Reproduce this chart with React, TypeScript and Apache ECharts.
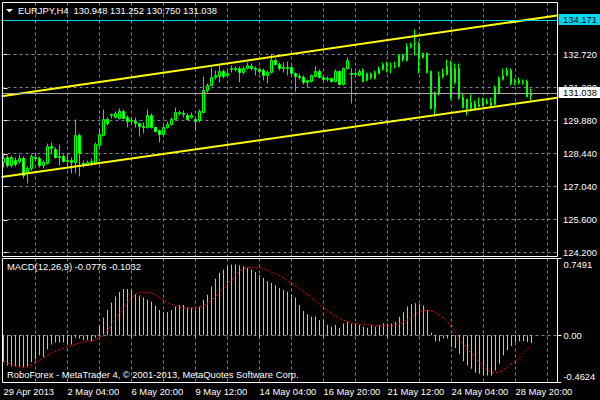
import React, { useEffect, useRef } from "react";
import * as echarts from "echarts";

// ---- data (EURJPY H4) ----
const opens = [
  128.073,128.288,127.944,128.159,128.116,128.245,127.600,127.815,128.288,128.245,
  127.944,128.030,128.762,128.633,128.288,128.331,128.116,128.159,128.073,129.235,
  128.030,127.987,128.073,128.073,128.805,129.235,129.923,130.096,130.010,129.967,
  130.268,130.010,129.837,129.837,129.751,129.622,129.579,130.096,129.579,129.450,
  129.278,129.579,129.708,129.923,130.182,130.182,130.096,130.010,129.923,129.880,
  130.225,131.171,131.386,131.731,131.774,131.989,131.817,132.075,132.118,132.118,
  131.946,132.118,132.204,132.118,132.075,132.032,131.817,131.946,132.462,132.290,
  132.118,132.161,132.161,131.903,131.774,131.731,131.516,131.559,131.774,131.989,
  131.731,131.645,131.688,131.559,131.989,131.429,132.118,131.903,131.860,131.817,
  132.032,131.602,131.860,131.688,131.903,132.075,132.290,132.204,132.247,132.204,
  132.677,132.462,133.065,133.151,133.194,132.763,132.763,131.989,130.397,131.042,
  131.774,131.860,132.204,131.516,132.118,130.870,130.784,130.397,130.612,130.483,
  130.526,130.698,130.655,130.569,131.042,131.645,131.817,132.032,131.516,131.602,
  131.516,131.559,130.948,
];
const closes = [
  128.245,127.944,128.288,127.987,128.245,127.514,127.815,128.331,128.245,127.944,
  128.073,128.762,128.676,128.288,128.331,128.116,128.159,128.073,129.235,128.460,
  127.944,128.073,128.116,128.848,129.278,129.923,129.751,130.139,130.182,130.268,
  129.967,129.837,129.880,129.751,129.622,129.579,130.096,129.579,129.407,129.278,
  129.579,129.708,129.923,130.225,130.225,130.139,129.923,130.096,129.837,130.268,
  131.171,131.386,131.731,131.817,131.989,131.774,131.903,132.118,132.075,131.946,
  132.118,132.247,132.118,132.075,131.989,131.817,131.946,132.462,132.290,132.118,
  132.161,132.118,131.903,131.774,131.731,131.516,131.602,131.817,131.989,131.731,
  131.645,131.688,131.559,131.989,131.429,132.118,132.462,131.860,131.903,131.989,
  131.559,131.903,131.731,131.946,132.118,132.290,132.204,132.247,132.204,132.677,
  132.505,133.065,133.151,133.194,132.591,132.591,131.946,130.397,131.042,131.774,
  131.903,132.204,130.870,132.118,130.870,130.440,130.397,130.655,130.354,130.569,
  130.698,130.612,130.526,131.300,131.688,131.817,132.032,131.473,131.602,131.516,
  131.559,130.913,131.038,
];
const lows = [
  127.858,127.858,127.858,127.901,128.030,127.385,127.170,127.729,128.159,127.858,
  127.815,127.987,128.460,128.245,127.944,128.073,127.858,127.600,127.600,127.471,
  127.858,127.944,127.944,127.987,128.762,129.192,129.665,129.967,129.967,129.923,
  129.923,129.579,129.751,129.579,129.192,129.321,129.536,129.536,129.364,128.934,
  129.235,129.536,129.665,129.880,130.096,130.010,129.880,129.967,129.450,129.794,
  130.182,131.085,131.343,131.645,131.516,131.688,131.731,131.946,131.989,131.516,
  131.860,132.075,132.032,131.817,131.903,131.602,131.473,131.903,132.247,132.032,
  131.946,131.817,131.860,131.128,131.645,131.429,131.300,131.516,131.731,131.688,
  131.559,131.559,131.516,131.516,131.386,131.386,132.075,130.612,131.774,131.774,
  131.516,131.559,131.645,131.645,131.860,132.032,131.946,131.903,132.118,132.161,
  132.419,132.419,132.979,132.677,131.903,132.548,131.903,130.354,130.053,130.956,
  131.688,131.817,130.784,131.429,130.784,130.397,130.096,130.268,130.311,130.440,
  130.483,130.569,130.483,130.526,130.999,131.602,131.774,131.386,131.386,131.429,
  131.429,130.870,130.750,
];
const highs = [
  128.417,128.374,128.374,128.288,128.417,128.331,127.901,128.417,128.417,128.331,
  128.159,128.891,128.934,128.719,128.848,128.417,128.460,128.288,129.923,129.321,
  128.159,128.159,128.245,128.934,129.536,130.354,130.010,130.182,130.268,130.397,
  130.354,130.096,129.967,130.010,129.794,129.794,130.354,130.182,129.622,129.493,
  129.665,129.837,130.010,130.440,130.311,130.311,130.182,130.225,130.010,130.354,
  131.774,131.473,132.161,132.032,132.247,132.075,132.032,132.247,132.204,132.204,
  132.204,132.376,132.333,132.204,132.161,132.118,132.032,132.763,132.548,132.376,
  132.376,132.419,132.247,131.946,131.903,131.817,131.645,131.860,132.204,132.075,
  131.817,131.774,131.731,132.075,132.032,132.161,132.591,132.118,131.989,132.075,
  132.118,131.946,131.946,132.032,132.204,132.376,132.419,132.376,132.419,132.720,
  132.763,133.194,133.237,133.796,133.280,132.806,132.806,132.032,131.128,131.989,
  132.118,132.505,132.462,132.333,132.333,131.042,130.827,130.999,130.741,130.870,
  130.870,130.827,130.870,131.386,131.774,132.118,132.161,132.118,131.688,131.731,
  131.645,131.645,131.252,
];
const macdMain = [
  -0.263,-0.296,-0.306,-0.306,-0.306,-0.312,-0.312,-0.263,-0.237,-0.197,
  -0.213,-0.138,-0.092,-0.072,-0.072,-0.072,-0.082,-0.092,-0.026,-0.033,
  -0.049,-0.049,-0.059,-0.026,0.092,0.171,0.246,0.319,0.378,0.421,
  0.450,0.450,0.434,0.401,0.388,0.368,0.345,0.328,0.289,0.246,
  0.230,0.224,0.246,0.279,0.296,0.296,0.270,0.270,0.246,0.279,
  0.345,0.394,0.476,0.552,0.608,0.641,0.674,0.690,0.690,0.684,
  0.674,0.657,0.641,0.618,0.585,0.559,0.526,0.510,0.487,0.460,
  0.444,0.427,0.401,0.368,0.296,0.237,0.204,0.181,0.181,0.148,
  0.148,0.099,0.082,0.099,0.072,0.115,0.131,0.115,0.115,0.099,
  0.082,0.072,0.099,0.082,0.099,0.115,0.115,0.115,0.131,0.181,
  0.223,0.279,0.302,0.312,0.302,0.289,0.246,0.026,-0.059,-0.059,
  -0.033,-0.033,-0.115,-0.125,-0.181,-0.256,-0.296,-0.329,-0.368,-0.378,
  -0.394,-0.394,-0.394,-0.345,-0.279,-0.197,-0.148,-0.105,-0.072,-0.059,
  -0.059,-0.066,-0.0776,
];
const macdSignal = [
  -0.256,-0.273,-0.289,-0.302,-0.312,-0.315,-0.309,-0.289,-0.269,-0.246,
  -0.223,-0.197,-0.174,-0.154,-0.141,-0.131,-0.115,-0.099,-0.085,-0.076,
  -0.066,-0.059,-0.056,-0.046,-0.020,0.007,0.049,0.105,0.158,0.214,
  0.263,0.322,0.368,0.401,0.417,0.421,0.417,0.411,0.394,0.368,
  0.345,0.319,0.302,0.286,0.276,0.269,0.266,0.263,0.263,0.273,
  0.289,0.306,0.335,0.378,0.421,0.460,0.499,0.532,0.585,0.624,
  0.651,0.660,0.664,0.664,0.657,0.647,0.631,0.614,0.598,0.582,
  0.559,0.532,0.509,0.480,0.455,0.425,0.395,0.365,0.332,0.298,
  0.263,0.237,0.210,0.184,0.164,0.148,0.131,0.118,0.112,0.108,
  0.105,0.102,0.099,0.095,0.092,0.092,0.092,0.092,0.099,0.112,
  0.131,0.148,0.171,0.204,0.230,0.240,0.243,0.237,0.220,0.197,
  0.164,0.131,0.072,0.026,-0.049,-0.092,-0.138,-0.181,-0.223,-0.269,
  -0.312,-0.338,-0.361,-0.368,-0.361,-0.335,-0.312,-0.279,-0.256,-0.214,
  -0.174,-0.131,-0.1032,
];
const priceTicks = [132.72, 131.28, 129.88, 128.44, 127.04, 125.6, 124.2];
const macdTicks = [0.7491, 0, -0.4624];
const macdLevels = [0];
const timeLabels = [
  "29 Apr 2013", "2 May 04:00", "6 May 20:00", "9 May 12:00", "14 May 04:00",
  "16 May 20:00", "21 May 12:00", "24 May 04:00", "28 May 20:00",
];
const LABEL_STEP = 16;
const GRID_STEP = 8;
const SLOTS = 139;
const trendUpper = [[-0.5, 130.92], [138.5, 134.4]];
const trendLower = [[-0.5, 127.45], [138.5, 130.86]];
const levelPrices = [134.171, 131.038];
const levelLineColors = ["#00d8f0", "#a8a8a8"];
const levelTagColors = ["#00d8f0", "#ffffff"];
const priceMin = 124.028;
const priceMax = 134.958;
const macdMin = -0.4624;
const macdMax = 0.7491;

const FONT = '"Liberation Sans", Arial, sans-serif';
const FS = 9.4;
const GRID_COLOR = "#778899";

const crisp = (v: number) => Math.round(v - 0.5) + 0.5;

export default function App() {
  const ref = useRef<HTMLDivElement>(null);
  useEffect(() => {
    if (!ref.current) return;
    const chart = echarts.init(ref.current, null, { renderer: "svg" });
    const cats = Array.from({ length: SLOTS }, (_, i) => String(i));
    const candles = opens.map((o, i) => [o, closes[i], lows[i], highs[i]]);
    const last = opens.length - 1;
    const vGrid: number[] = [];
    for (let k = GRID_STEP; k < SLOTS; k += GRID_STEP) vGrid.push(k);

    const titleText = `EURJPY,H4  ${opens[last].toFixed(3)} ${highs[last].toFixed(3)} ${lows[last].toFixed(3)} ${closes[last].toFixed(3)}`;
    const macdText = `MACD(12,26,9) ${macdMain[last].toFixed(4)} ${macdSignal[last].toFixed(4)}`;
    const txt = (x: number, y: number, text: string) => ({
      type: "text", x, y, silent: true, z: 20,
      style: { text, fill: "#fff", font: `${FS}px ${FONT}`, align: "left", verticalAlign: "middle" },
    });

    // One custom series per panel draws the whole dashed grid (verticals every GRID_STEP bars + level lines).
    const gridSeries = (xi: number, yi: number, levels: number[]) => ({
      type: "custom", xAxisIndex: xi, yAxisIndex: yi, z: 1, clip: false,
      data: [[0, levels[0]]],
      renderItem: (params: any, api: any) => {
        const cs = params.coordSys;
        const children: any[] = [];
        vGrid.forEach((k) => {
          const x = crisp(api.coord([k, levels[0]])[0]);
          children.push({ type: "line", shape: { x1: x, y1: cs.y, x2: x, y2: cs.y + cs.height }, style: { stroke: GRID_COLOR, lineWidth: 1, lineDash: [3, 3] } });
        });
        levels.forEach((v) => {
          const y = crisp(api.coord([0, v])[1]);
          children.push({ type: "line", shape: { x1: cs.x, y1: y, x2: cs.x + cs.width, y2: y }, style: { stroke: GRID_COLOR, lineWidth: 1, lineDash: [3, 3] } });
        });
        return { type: "group", children };
      },
    });

    const option: any = {
      animation: false,
      backgroundColor: "#000",
      grid: [
        { left: 1.5, top: 2.5, width: 556, height: 254 },
        { left: 1.5, top: 258.5, width: 556, height: 124 },
      ],
      xAxis: [
        { type: "category", gridIndex: 0, data: cats, boundaryGap: true, show: false },
        { type: "value", gridIndex: 0, min: -0.5, max: SLOTS - 0.5, show: false },
        {
          type: "category", gridIndex: 1, data: cats, boundaryGap: true,
          axisLine: { show: false },
          axisTick: { show: true, alignWithLabel: true, interval: LABEL_STEP - 1, length: 4, lineStyle: { color: "#fff" } },
          axisLabel: {
            interval: LABEL_STEP - 1, align: "left", color: "#fff", fontSize: FS, fontFamily: FONT, margin: 4,
            formatter: (_v: string, i: number) => (i % LABEL_STEP === 0 ? timeLabels[i / LABEL_STEP] ?? "" : ""),
          },
          splitLine: { show: false },
        },
      ],
      yAxis: [
        {
          type: "value", gridIndex: 0, position: "right", min: priceMin, max: priceMax,
          axisLine: { show: false },
          axisTick: { show: true, customValues: priceTicks, length: 4, lineStyle: { color: "#fff" } },
          axisLabel: { customValues: priceTicks, formatter: (v: number) => v.toFixed(3), color: "#fff", fontSize: FS, fontFamily: FONT, margin: 6 },
          splitLine: { show: false },
        },
        {
          type: "value", gridIndex: 1, position: "right", min: macdMin, max: macdMax,
          axisLine: { show: false },
          axisTick: { show: true, customValues: macdTicks, length: 4, lineStyle: { color: "#fff" } },
          axisLabel: {
            customValues: macdTicks, color: "#fff", fontSize: FS, fontFamily: FONT, margin: 6,
            formatter: (v: number) => Math.abs(v) < 1e-9 ? "0.00" : v > 0 ? `{t|${v.toFixed(4)}}` : `{b|${v.toFixed(4)}}`,
            rich: {
              t: { padding: [12, 0, 0, 0], color: "#fff", fontSize: FS, fontFamily: FONT },
              b: { padding: [0, 0, 12, 0], color: "#fff", fontSize: FS, fontFamily: FONT },
            },
          },
          splitLine: { show: false },
        },
      ],
      series: [
        gridSeries(0, 0, priceTicks),
        {
          type: "candlestick", xAxisIndex: 0, yAxisIndex: 0, data: candles, barWidth: 2, z: 3,
          itemStyle: { color: "#000000", color0: "#ffffff", borderColor: "#00ff00", borderColor0: "#00ff00", borderWidth: 1 },
        },
        {
          type: "line", xAxisIndex: 1, yAxisIndex: 0, data: trendUpper, symbol: "none", z: 4,
          lineStyle: { color: "#ffff00", width: 2 },
        },
        {
          type: "line", xAxisIndex: 1, yAxisIndex: 0, data: trendLower, symbol: "none", z: 4,
          lineStyle: { color: "#ffff00", width: 2 },
        },
        {
          type: "custom", xAxisIndex: 0, yAxisIndex: 0, z: 5, clip: false,
          data: levelPrices.map((p) => [0, p]),
          renderItem: (params: any, api: any) => {
            const cs = params.coordSys;
            const i = params.dataIndex;
            const v = api.value(1);
            const y = crisp(api.coord([0, v])[1]);
            const right = cs.x + cs.width;
            return {
              type: "group",
              children: [
                { type: "line", shape: { x1: cs.x, y1: y, x2: right, y2: y }, style: { stroke: levelLineColors[i], lineWidth: 1 } },
                { type: "rect", shape: { x: right + 1.5, y: y - 6.5, width: 42, height: 11 }, style: { fill: levelTagColors[i] } },
                {
                  type: "text",
                  style: { x: right + 6, y: y - 1, text: Number(v).toFixed(3), fill: "#000", font: `${FS}px ${FONT}`, align: "left", verticalAlign: "middle" },
                },
              ],
            };
          },
        },
        gridSeries(2, 1, macdLevels),
        {
          type: "bar", xAxisIndex: 2, yAxisIndex: 1, data: macdMain, barWidth: 1, z: 3,
          itemStyle: { color: "#c0c0c0" },
        },
        {
          type: "line", xAxisIndex: 2, yAxisIndex: 1, data: macdSignal, symbol: "none", z: 4,
          lineStyle: { color: "#ff0000", width: 1, type: [2, 2] },
        },
      ],
      graphic: [
        { type: "rect", silent: true, z: 10, shape: { x: 2.5, y: 2.5, width: 555, height: 254 }, style: { fill: "none", stroke: "#fff", lineWidth: 1 } },
        { type: "rect", silent: true, z: 10, shape: { x: 2.5, y: 258.5, width: 555, height: 124 }, style: { fill: "none", stroke: "#fff", lineWidth: 1 } },
        { type: "polygon", silent: true, z: 20, shape: { points: [[6, 9], [13, 9], [9.5, 12.5]] }, style: { fill: "#fff" } },
        txt(18, 10, titleText),
        txt(7, 266.7, macdText),
        txt(7, 374.3, "RoboForex - MetaTrader 4, © 2001-2013, MetaQuotes Software Corp."),
      ],
    };
    chart.setOption(option);
    return () => chart.dispose();
  }, []);
  return (
    <div
      ref={ref}
      style={{ position: "absolute", left: 0, top: 0, width: 600, height: 400, background: "#000" }}
    />
  );
}
